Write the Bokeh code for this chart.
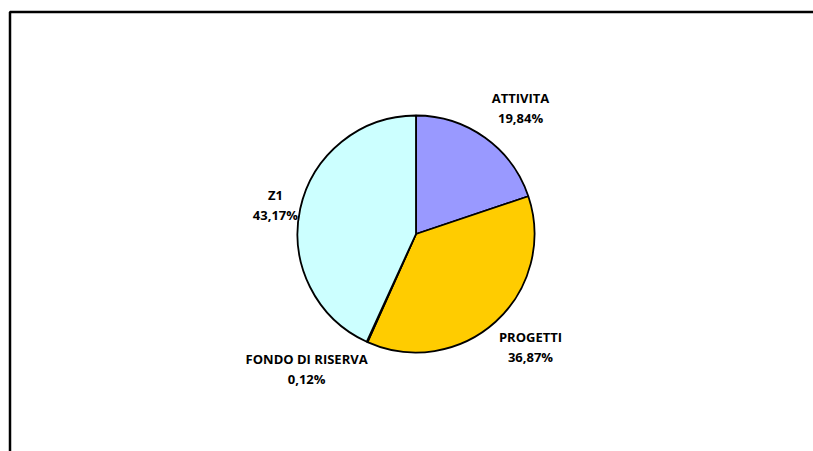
import math
from bokeh.plotting import figure
from bokeh.models import ColumnDataSource
from bokeh.core.properties import value
from bokeh.embed import file_html
from bokeh.resources import INLINE

# Data
categories = ["ATTIVITA", "PROGETTI", "FONDO DI RISERVA", "Z1"]
percent = [19.84, 36.87, 0.12, 43.17]
colors = ["#9999FF", "#FFCC00", "#660066", "#CCFFFF"]

# label placement (degrees clockwise from top, distance in radii)
label_angle = [39.8, 134.9, 218.9, 281.3]
label_dist = [1.378, 1.364, 1.47, 1.21]

W, H = 813, 451
cx, cy, r = 415.5, H - 233.5, 118.5

total = sum(percent)
starts, ends, lx, ly = [], [], [], []
cum = 0.0
for pct, ang, d in zip(percent, label_angle, label_dist):
    a0 = cum / total
    cum += pct
    a1 = cum / total
    starts.append(math.pi / 2 - 2 * math.pi * a0)
    ends.append(math.pi / 2 - 2 * math.pi * a1)
    t = math.radians(ang)
    lx.append(cx + d * r * math.sin(t))
    ly.append(cy + d * r * math.cos(t))

src = ColumnDataSource(dict(start=starts, end=ends, color=colors,
                            cat=categories,
                            pct=[f"{p:.2f}".replace(".", ",") + "%" for p in percent],
                            lx=lx, ly=ly))

p = figure(width=W, height=H, x_range=(0, W), y_range=(0, H),
           output_backend="svg", toolbar_location=None, min_border=0)
p.axis.visible = False
p.grid.visible = False
p.outline_line_color = None
p.background_fill_color = "white"

# chart-area frame (extends past right/bottom edge)
p.quad(left=[9.5], right=[W + 50], top=[H - 11.5], bottom=[-50],
       fill_color=None, line_color="black", line_width=2.5)

p.wedge(x=cx, y=cy, radius=r, start_angle="start", end_angle="end",
        direction="clock", fill_color="color", line_color="black",
        line_width=1.8, source=src)

p.text(x="lx", y="ly", text="cat", source=src, text_align="center",
       text_baseline="bottom", text_font=value("Open Sans"),
       text_font_style="bold", text_font_size="13px", text_color="black",
       y_offset=-2)
p.text(x="lx", y="ly", text="pct", source=src, text_align="center",
       text_baseline="top", text_font=value("Open Sans"),
       text_font_style="bold", text_font_size="13px", text_color="black",
       y_offset=0)

open("out.html", "w").write(file_html(p, INLINE))
